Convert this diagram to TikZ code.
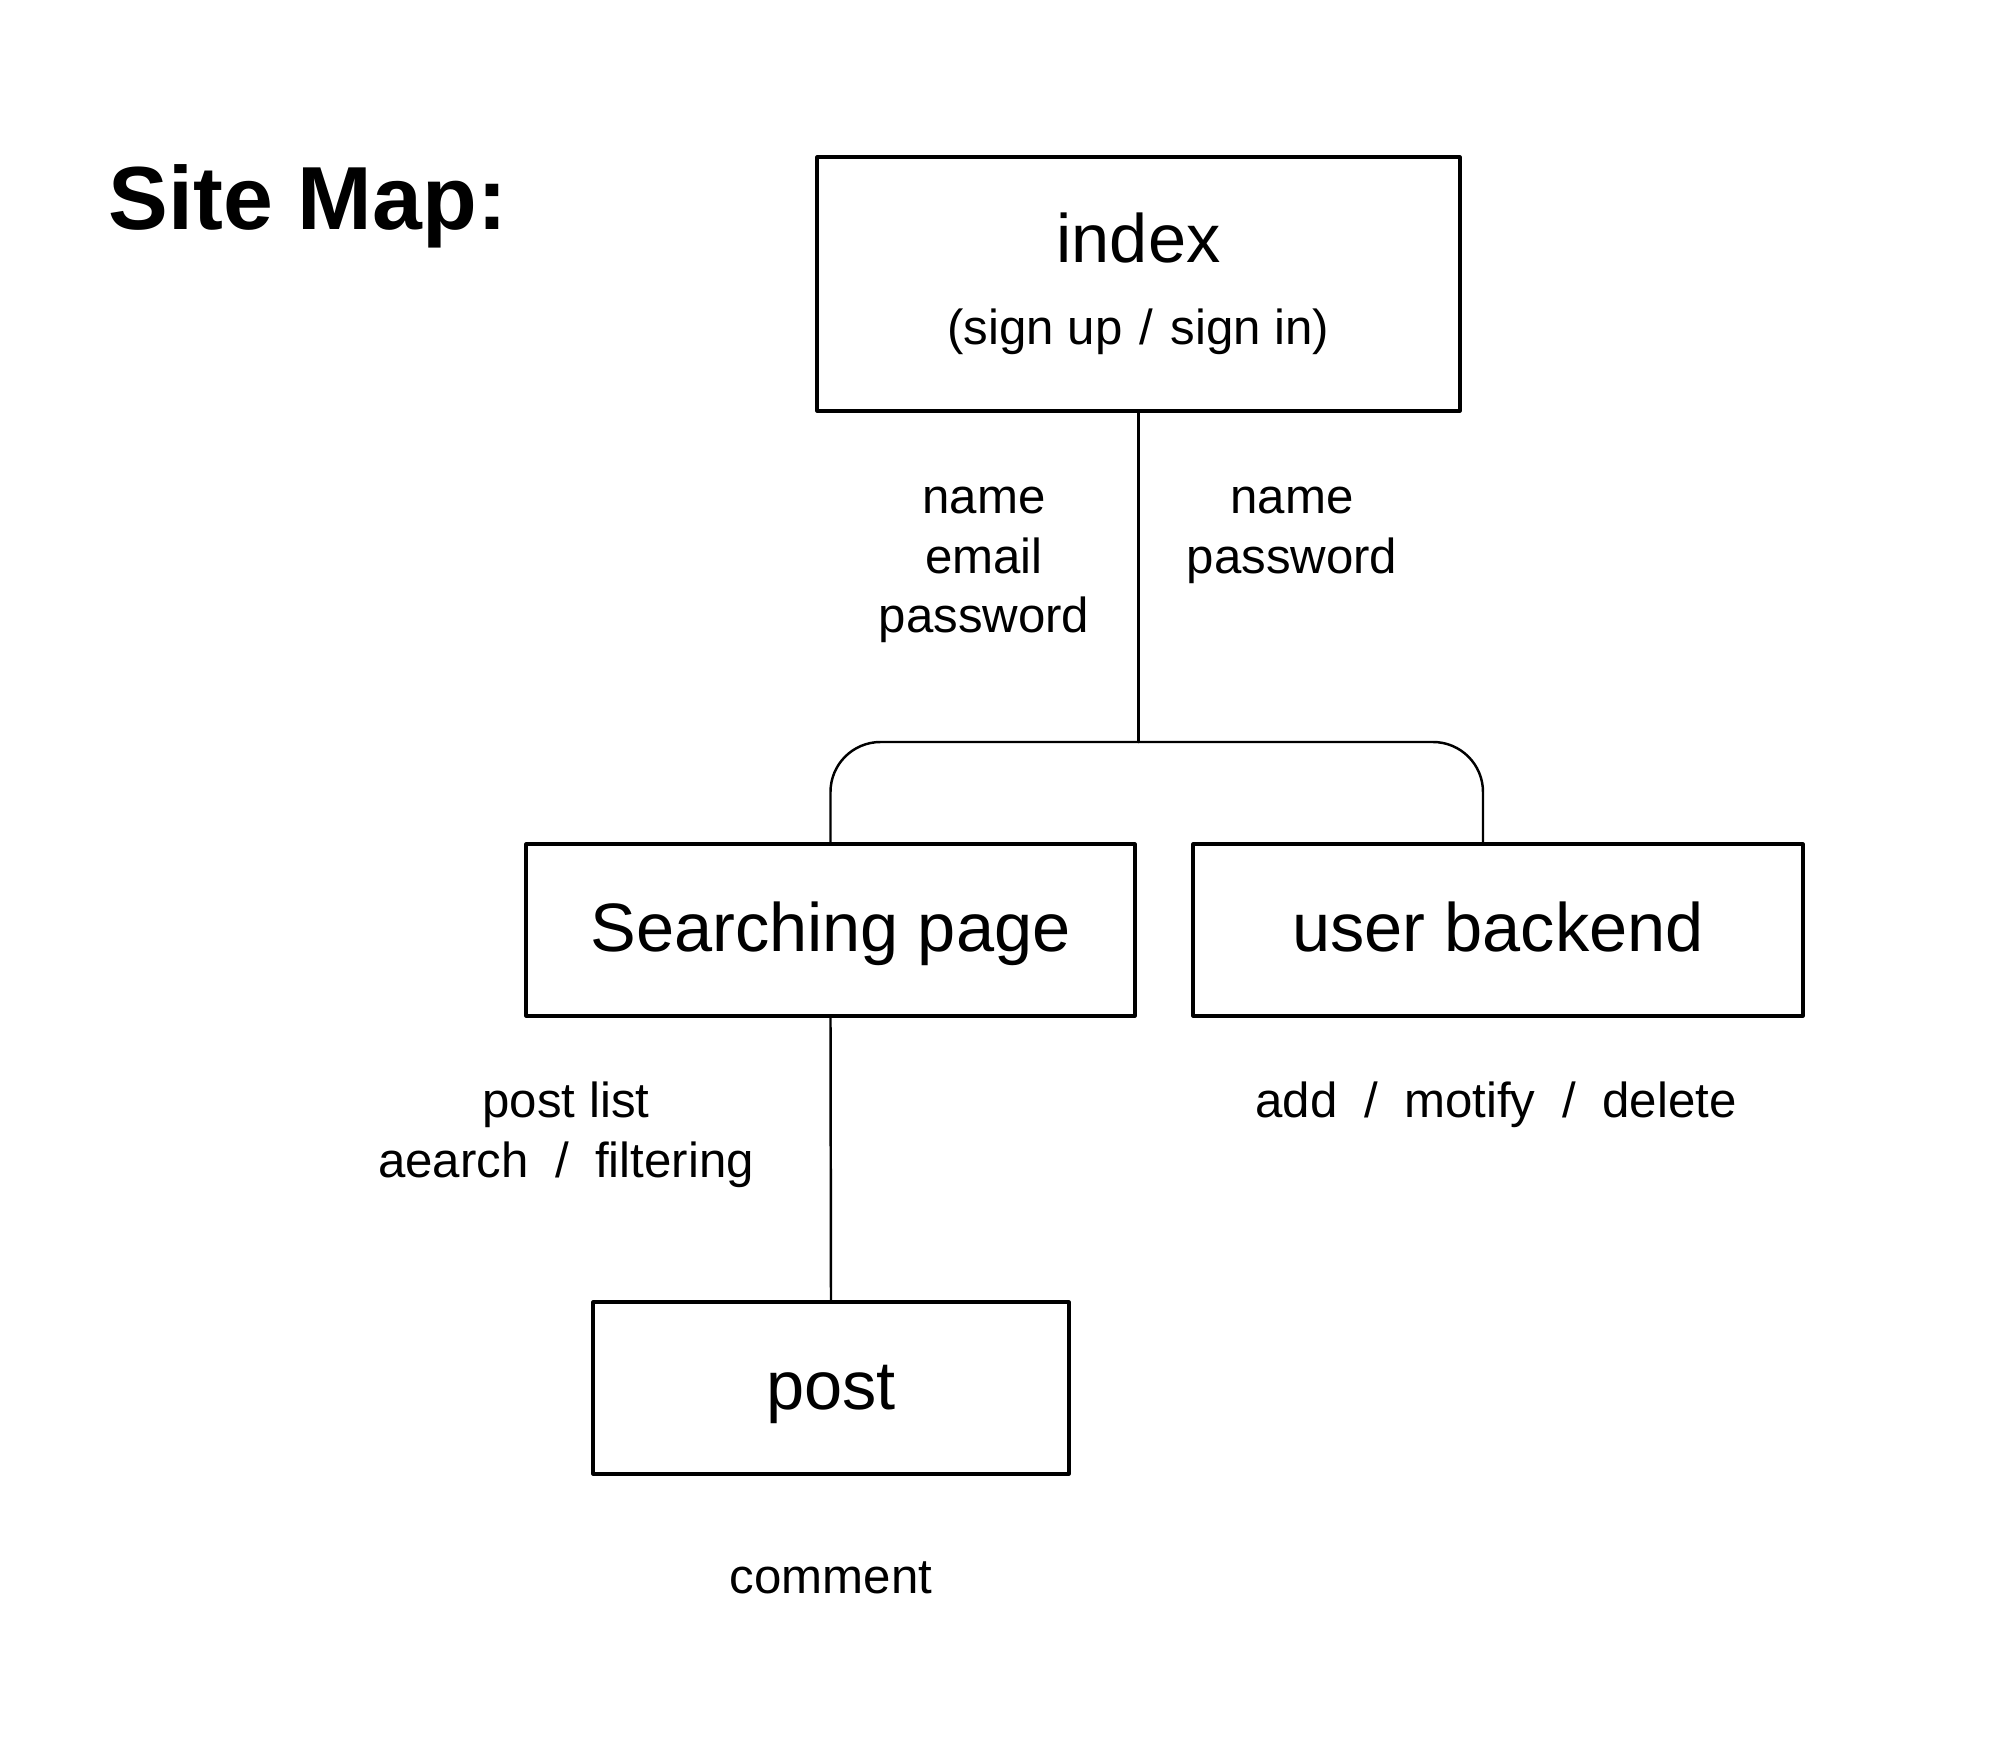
\documentclass[tikz,border=0pt]{standalone}
\usepackage{fontspec}
\setmainfont{Liberation Sans}
\usetikzlibrary{positioning}
\newcommand\sepslash{\hspace{0.54em}/\hspace{0.54em}}

\begin{document}
\begin{tikzpicture}[line cap=round, line join=round,
    pagebox/.style={draw, line width=0.9pt, inner sep=0pt, minimum height=1.72cm,
      font=\fontsize{19.5}{23}\selectfont, text height=15pt, text depth=3pt},
    link/.style={line width=0.7pt},
    note/.style={align=center, inner sep=0pt, font=\fontsize{14}{17}\selectfont}]
  \useasboundingbox (0,0) rectangle (19.96,-17.55);

  % title
  \node[anchor=base west, inner sep=0pt, font=\fontsize{25.5}{30}\selectfont\bfseries]
      (title) at (1.08,-2.29) {Site Map:};

  % pages
  \node[draw, line width=0.9pt, minimum width=6.43cm, minimum height=2.54cm, align=center]
      (index) at (11.385,-2.84)
      {\fontsize{19.5}{23}\selectfont index\\[0.4cm]
       {\fontsize{14}{17}\selectfont (sign up\hspace{0.35em}/\hspace{0.35em}sign in)}};
  \node[pagebox, minimum width=6.09cm] (search) at (8.305,-9.30) {Searching page};
  \node[pagebox, minimum width=6.10cm] (user) at (14.98,-9.30) {user backend};
  \node[pagebox, minimum width=4.76cm] (post) at (8.31,-13.88) {post};

  % tree
  \coordinate (fork) at (index.south |- 0,-7.42);
  \draw[link] (index.south) -- (fork);
  \draw[link, rounded corners=0.5cm] (fork) -| (search.north);
  \draw[link, rounded corners=0.5cm] (fork) -| ([xshift=-0.15cm]user.north);
  \draw[link] (search.south) -- (post.north);

  % what each page holds
  \node[note] (signup) at (9.84,-5.65) {name\\email\\password};
  \node[note] (signin) at (12.92,-5.35) {name\\password};
  \node[note] (list) at (5.66,-11.35) {post list\\aearch\sepslash filtering};
  \node[note] (edit) at (14.96,-11.05) {add\sepslash motify\sepslash delete};
  \node[note] (comment) at (8.31,-15.78) {comment};
\end{tikzpicture}
\end{document}
